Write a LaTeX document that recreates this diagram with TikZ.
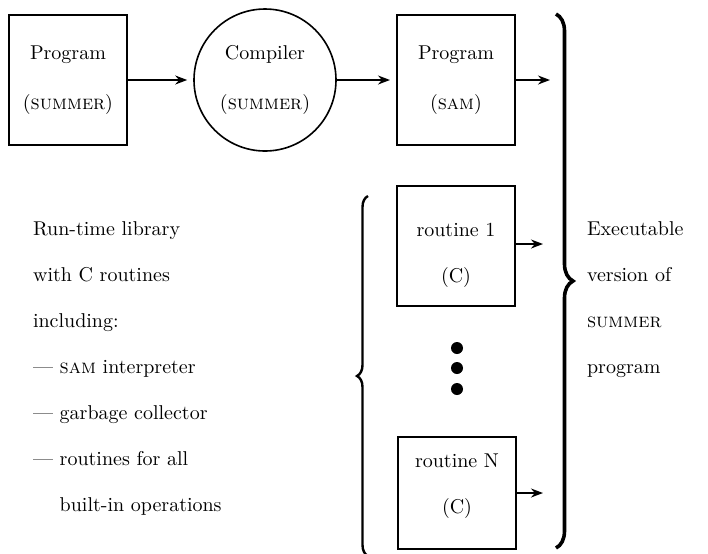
\documentclass[tikz,border=0pt]{standalone}
\usepackage{tikz}
\usetikzlibrary{arrows.meta,decorations.pathreplacing}

\tikzset{
  box/.style={draw, line width=1pt, minimum width=59pt, minimum height=65pt,
    inner sep=0pt, align=center},
  comp/.style={draw, circle, line width=0.8pt, minimum size=71pt,
    inner sep=0pt, align=center},
  arr/.style={-{Stealth[length=6pt,width=4.5pt]}, line width=0.8pt},
  brc/.style={decorate, line width=1.8pt}
}

\begin{document}
\begin{tikzpicture}[x=0.5pt,y=-0.5pt]

        \useasboundingbox (0,0) rectangle (708,553);
        \clip (0,0) rectangle (708,553);

        % Top row
        \node[box] (src) at (68,80) {Program\\[13pt](\textsc{summer})};
        \node[comp] (cmp) at (265,80) {Compiler\\[13pt](\textsc{summer})};
        \node[box] (sam) at (456,80) {Program\\[13pt](\textsc{sam})};
        \coordinate (samout) at (550,80);

        \draw[arr, shorten >=3pt] (src) -- (cmp);
        \draw[arr, shorten >=3pt] (cmp) -- (sam);
        \draw[arr] (sam) -- (samout);

        % Library routines
        \node[box, minimum height=60pt] (r1) at (456,246)
            {\rule{0pt}{16pt}routine 1\\[11pt](C)};
        \node[box, minimum height=56pt] (rn) at (457,493)
            {routine N\\[11pt](C)\rule[-9pt]{0pt}{0pt}};
        \coordinate (r1out) at (543,244);
        \coordinate (rnout) at (543,493);

        \draw[arr] (r1.east |- r1out) -- (r1out);
        \draw[arr] (rn) -- (rnout);

        % Dots
        \foreach \y in {348,368,389}
            \fill (457,\y) circle (3pt);

        % Braces
        \draw[brc, line width=1.2pt, decoration={brace,amplitude=5.5pt}]
            (368,556) -- (368,196);
        \draw[brc, decoration={brace,amplitude=8.5pt}]
            (556,14) -- (556,548);

        % Labels
        \node[anchor=west, align=left] (lib) at (26,368)
            {Run-time library\\[11pt]with C routines\\[11pt]including:\\[11pt]%
             --- \textsc{sam} interpreter\\[11pt]--- garbage collector\\[11pt]%
             --- routines for all\\[11pt]\hphantom{--- }built-in operations};
        \node[anchor=west, align=left] (exe) at (580,300)
            {Executable\\[11pt]version of\\[11pt]\textsc{summer}\\[11pt]program};

\end{tikzpicture}
\end{document}
